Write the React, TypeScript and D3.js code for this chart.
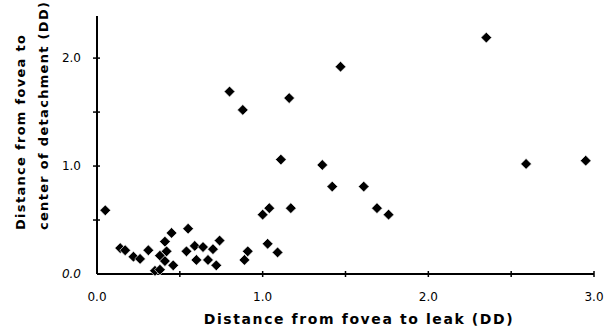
import React, { useEffect, useRef } from 'react';
import * as d3 from 'd3';

// distance from fovea to leak (DD)
const leakDist: number[] = [
  0.05,
  0.14, 0.17, 0.22, 0.26, 0.31,
  0.35, 0.38, 0.38, 0.41, 0.45, 0.42, 0.41, 0.46,
  0.55, 0.54, 0.59, 0.64, 0.60, 0.67, 0.70, 0.74, 0.72,
  0.80, 0.88, 0.91, 0.89,
  1.00, 1.04, 1.03, 1.09, 1.11, 1.16, 1.17,
  1.36, 1.42, 1.47, 1.61, 1.69, 1.76,
  2.35, 2.59, 2.95,
];

// distance from fovea to center of detachment (DD)
const detachDist: number[] = [
  0.59,
  0.24, 0.22, 0.16, 0.14, 0.22,
  0.03, 0.04, 0.17, 0.30, 0.38, 0.21, 0.12, 0.08,
  0.42, 0.21, 0.26, 0.25, 0.13, 0.13, 0.23, 0.31, 0.08,
  1.69, 1.52, 0.21, 0.13,
  0.55, 0.61, 0.28, 0.20, 1.06, 1.63, 0.61,
  1.01, 0.81, 1.92, 0.81, 0.61, 0.55,
  2.19, 1.02, 1.05,
];

const xTicks: number[] = [0.5, 1.0, 1.5, 2.0, 2.5, 3.0];
const xLabels: number[] = [0.0, 1.0, 2.0, 3.0];
const yTicks: number[] = [0.5, 1.0, 1.5, 2.0];
const yLabels: number[] = [0.0, 1.0, 2.0];

const App = () => {
  const svgRef = useRef<SVGSVGElement>(null);

  useEffect(() => {
    const W = 613;
    const H = 328;
    const x0 = 97, x1 = 594;
    const y0 = 274;

    const svg = d3.select(svgRef.current);
    svg.selectAll('*').remove();
    svg.attr('width', W).attr('height', H);

    const x = d3.scaleLinear().domain([0, 3]).range([x0, x1]);
    const y = d3.scaleLinear().domain([0, 2.39]).range([y0, 16]);

    const font = '"DejaVu Sans", sans-serif';

    // axes
    svg.append('line')
      .attr('x1', x(0)).attr('x2', x(3))
      .attr('y1', y(0)).attr('y2', y(0))
      .attr('stroke', '#000').attr('stroke-width', 2);
    svg.append('line')
      .attr('x1', x(0)).attr('x2', x(0))
      .attr('y1', y(0)).attr('y2', y(2.39))
      .attr('stroke', '#000').attr('stroke-width', 2);

    svg.selectAll('.xtick')
      .data(xTicks)
      .enter()
      .append('line')
      .attr('class', 'xtick')
      .attr('x1', d => x(d)).attr('x2', d => x(d))
      .attr('y1', y(0) - 3).attr('y2', y(0) + 3)
      .attr('stroke', '#000').attr('stroke-width', 1.5);

    svg.selectAll('.ytick')
      .data(yTicks)
      .enter()
      .append('line')
      .attr('class', 'ytick')
      .attr('x1', x(0) - 4).attr('x2', x(0) + 3)
      .attr('y1', d => y(d)).attr('y2', d => y(d))
      .attr('stroke', '#000').attr('stroke-width', 1.5);

    svg.selectAll('.xlabel')
      .data(xLabels)
      .enter()
      .append('text')
      .attr('class', 'xlabel')
      .attr('x', d => x(d))
      .attr('y', y(0) + 27)
      .attr('text-anchor', 'middle')
      .style('font-family', font)
      .style('font-size', '12px')
      .text(d => d.toFixed(1));

    svg.selectAll('.ylabel')
      .data(yLabels)
      .enter()
      .append('text')
      .attr('class', 'ylabel')
      .attr('x', x(0) - 16)
      .attr('y', d => y(d) + 4)
      .attr('text-anchor', 'end')
      .style('font-family', font)
      .style('font-size', '12px')
      .style('font-style', d => (d === 0 ? 'italic' : 'normal'))
      .text(d => d.toFixed(1));

    // axis titles
    svg.append('text')
      .attr('x', 359)
      .attr('y', 324)
      .attr('text-anchor', 'middle')
      .style('font-family', font)
      .style('font-weight', 'bold')
      .style('font-size', '14px')
      .style('letter-spacing', '1.6px')
      .text('Distance from fovea to leak (DD)');

    const yTitle = svg.append('g')
      .attr('transform', 'translate(0,230) rotate(-90)');
    yTitle.append('text')
      .attr('x', 0).attr('y', 25)
      .style('font-family', font)
      .style('font-weight', 'bold')
      .style('font-size', '13px')
      .style('letter-spacing', '1.3px')
      .text('Distance from fovea to');
    yTitle.append('text')
      .attr('x', 0).attr('y', 48)
      .style('font-family', font)
      .style('font-weight', 'bold')
      .style('font-size', '13px')
      .style('letter-spacing', '1.3px')
      .text('center of detachment (DD)');

    // points
    const pts = leakDist.map((v, i) => ({ lx: v, dy: detachDist[i] }));
    const diamond = d3.symbol().type(d3.symbolSquare).size(58);
    svg.selectAll('.pt')
      .data(pts)
      .enter()
      .append('path')
      .attr('class', 'pt')
      .attr('d', diamond)
      .attr('transform', d => `translate(${x(d.lx)},${y(d.dy)}) rotate(45)`)
      .attr('fill', '#000')
      .attr('stroke', '#fff')
      .attr('stroke-width', 0.6)
      .attr('stroke-linejoin', 'round');
  }, []);

  return (
    <div style={{ position: 'absolute', left: 0, top: 0, background: '#fff' }}>
      <svg ref={svgRef}></svg>
    </div>
  );
};

export default App;
